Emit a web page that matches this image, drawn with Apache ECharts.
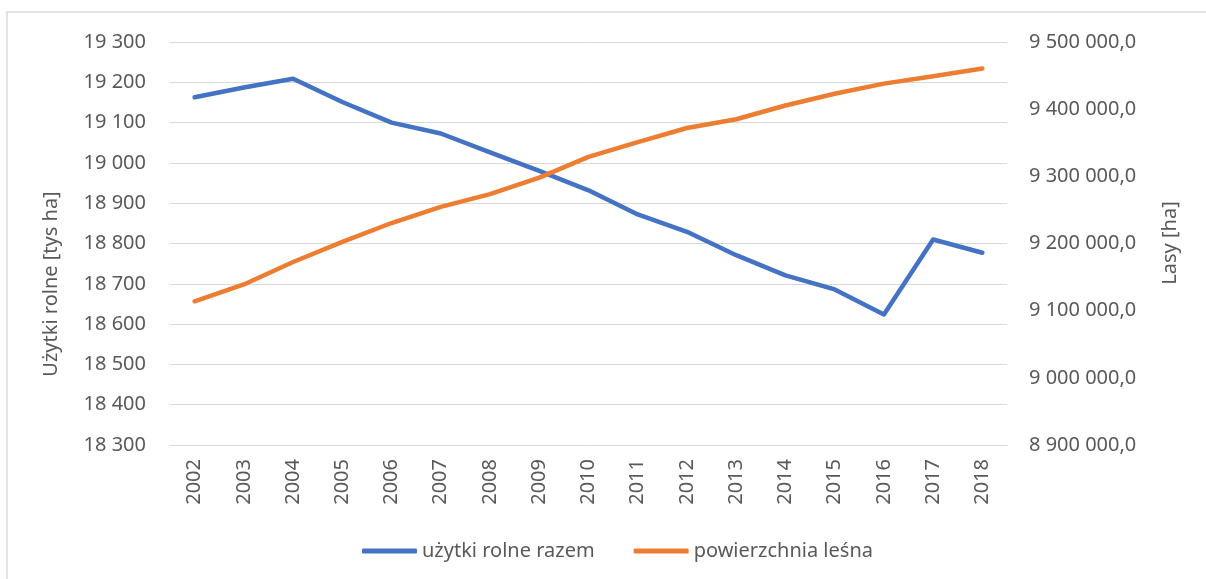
<!DOCTYPE html>
<html>
<head>
<meta charset="utf-8">
<script src="https://cdn.jsdelivr.net/npm/echarts@6/dist/echarts.min.js"></script>
<style>
  html, body { margin: 0; padding: 0; background: #fff; }
  #chart { width: 1206px; height: 579px; }
</style>
</head>
<body>
<div id="chart"></div>
<script>
// dane
const years = ['2002', '2003', '2004', '2005', '2006', '2007', '2008', '2009', '2010',
  '2011', '2012', '2013', '2014', '2015', '2016', '2017', '2018']
const uzytkiRolne = [19163, 19187, 19209, 19151, 19100, 19073, 19026, 18980, 18932,
  18872, 18829, 18771, 18721, 18686, 18624, 18810, 18777]          // tys ha
const powierzchniaLesna = [9114000, 9139000, 9172500, 9202500, 9230500, 9254500, 9273500, 9298000, 9329000,
  9351000, 9372000, 9385000, 9405500, 9423000, 9438000, 9449000, 9460500]  // ha
const seriesNames = ['użytki rolne razem', 'powierzchnia leśna']

const textColor = '#595959'
const font = 'Noto Sans'

// spacja jako separator tysięcy
const fmt = (v, dec) => {
  const parts = v.toFixed(dec).split('.')
  const intPart = parts[0].replace(/\B(?=(\d{3})+(?!\d))/g, ' ')
  return dec ? intPart + ',' + parts[1] : intPart
}

const chart = echarts.init(document.getElementById('chart'))

const option = {
  animation: false,
  textStyle: { fontFamily: font },
  grid: { left: 170, right: 199, top: 42, bottom: 134, containLabel: false },
  graphic: [
    {
      type: 'rect',
      shape: { x: 7, y: 12, width: 1400, height: 800 },
      style: { fill: 'none', stroke: '#d9d9d9', lineWidth: 1.5 },
      silent: true
    },
    {
      type: 'text',
      x: 51, y: 284, rotation: Math.PI / 2,
      style: { text: 'Użytki rolne [tys ha]', fill: textColor, font: '20px "Noto Sans"', align: 'center', verticalAlign: 'middle' }
    },
    {
      type: 'text',
      x: 1170, y: 243, rotation: Math.PI / 2,
      style: { text: 'Lasy [ha]', fill: textColor, font: '20px "Noto Sans"', align: 'center', verticalAlign: 'middle' }
    }
  ],
  legend: {
    data: seriesNames,
    left: 357,
    top: 536,
    icon: 'roundRect',
    itemWidth: 55,
    itemHeight: 5,
    itemGap: 39,
    textStyle: { color: textColor, fontSize: 20, fontFamily: font }
  },
  xAxis: {
    type: 'category',
    data: years,
    axisLine: { lineStyle: { color: '#d9d9d9', width: 1 } },
    axisTick: { show: false },
    axisLabel: { rotate: 90, margin: 14, color: textColor, fontSize: 20, fontFamily: font }
  },
  yAxis: [
    {
      type: 'value',
      min: 18300,
      max: 19300,
      interval: 100,
      axisLine: { show: false },
      axisTick: { show: false },
      axisLabel: { margin: 24, color: textColor, fontSize: 20, fontFamily: font, formatter: v => fmt(v, 0) },
      splitLine: { lineStyle: { color: '#d9d9d9', width: 1 } }
    },
    {
      type: 'value',
      position: 'right',
      min: 8900000,
      max: 9500000,
      interval: 100000,
      axisLine: { show: false },
      axisTick: { show: false },
      axisLabel: { margin: 22, color: textColor, fontSize: 20, fontFamily: font, formatter: v => fmt(v, 1) },
      splitLine: { show: false }
    }
  ],
  series: [
    {
      name: seriesNames[0],
      type: 'line',
      data: uzytkiRolne,
      yAxisIndex: 0,
      symbol: 'none',
      itemStyle: { color: '#4472C4' },
      lineStyle: { color: '#4472C4', width: 4.5, cap: 'round', join: 'round' }
    },
    {
      name: seriesNames[1],
      type: 'line',
      data: powierzchniaLesna,
      yAxisIndex: 1,
      symbol: 'none',
      itemStyle: { color: '#ED7D31' },
      lineStyle: { color: '#ED7D31', width: 4.5, cap: 'round', join: 'round' }
    }
  ]
}

chart.setOption(option)
window.addEventListener('resize', () => chart.resize())
</script>
</body>
</html>
